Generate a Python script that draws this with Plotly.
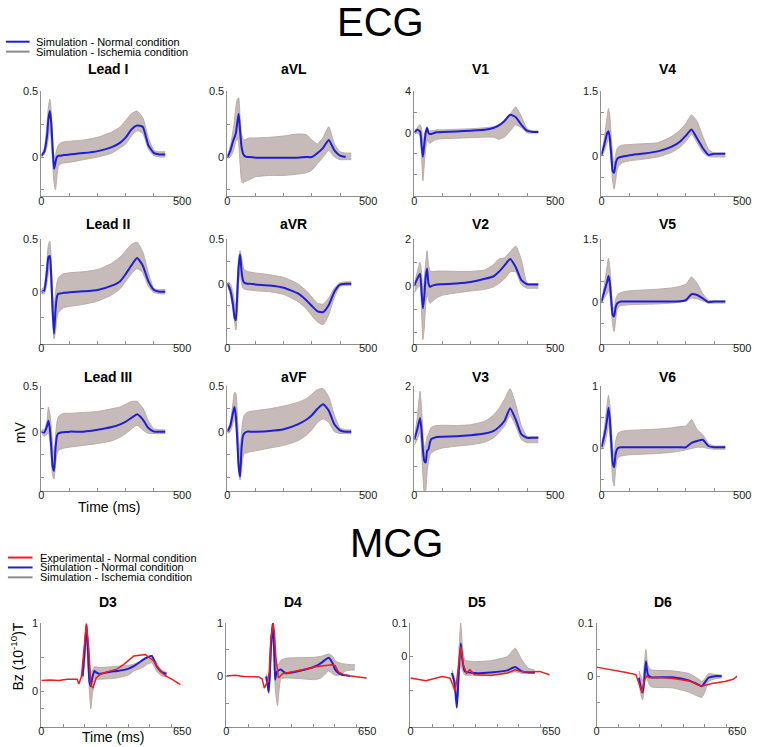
import plotly.graph_objects as go

W, H = 763, 747

# ---------------- ECG data (mV) ----------------
ecg_time_ms = [0, 10, 20, 25, 30, 35, 40, 45, 50, 55, 60, 70, 80, 100, 150, 200, 250, 280, 300, 320, 340, 360, 380, 400, 420, 440]

lead_I_normal = [0.01, 0.04, 0.16, 0.29, 0.35, 0.26, 0.06, -0.09, -0.04, 0.0, 0.01, 0.01, 0.015, 0.02, 0.03, 0.045, 0.075, 0.11, 0.15, 0.21, 0.24, 0.23, 0.09, 0.03, 0.02, 0.02]
lead_I_isch_hi = [0.02, 0.06, 0.25, 0.38, 0.44, 0.35, 0.15, 0.0, 0.02, 0.06, 0.09, 0.11, 0.115, 0.12, 0.13, 0.15, 0.19, 0.23, 0.28, 0.33, 0.35, 0.3, 0.15, 0.05, 0.04, 0.04]
lead_I_isch_lo = [0.0, 0.02, 0.08, 0.15, 0.22, 0.12, -0.05, -0.2, -0.25, -0.15, -0.07, -0.05, -0.045, -0.04, -0.02, 0.0, 0.03, 0.07, 0.1, 0.16, 0.2, 0.18, 0.06, 0.01, 0.0, 0.0]

aVL_normal = [0.0, 0.045, 0.12, 0.15, 0.18, 0.26, 0.33, 0.2, 0.08, 0.03, 0.01, 0.0, 0.0, -0.005, -0.005, -0.005, -0.005, 0.0, 0.0, 0.03, 0.07, 0.13, 0.05, 0.01, 0.0, None]
aVL_isch_hi = [0.01, 0.08, 0.2, 0.28, 0.38, 0.44, 0.45, 0.3, 0.18, 0.14, 0.13, 0.14, 0.145, 0.145, 0.15, 0.16, 0.175, 0.17, 0.13, 0.1, 0.15, 0.23, 0.1, 0.04, 0.03, 0.03]
aVL_isch_lo = [-0.01, 0.0, 0.04, 0.08, 0.12, 0.15, 0.1, -0.05, -0.18, -0.2, -0.19, -0.18, -0.17, -0.15, -0.14, -0.14, -0.13, -0.12, -0.1, -0.05, 0.0, 0.05, 0.0, -0.02, -0.02, -0.02]

V1_normal = [0.06, 0.3, 0.15, -1.1, -2.3, -1.1, 0.0, 0.47, 0.0, -0.1, -0.1, 0.0, 0.06, 0.1, 0.15, 0.22, 0.3, 0.47, 0.72, 1.15, 1.75, 1.5, 0.78, 0.22, 0.1, 0.1]
V1_isch_hi = [0.2, 0.5, 0.8, 0.5, -1.0, -0.2, 0.3, 0.6, 0.3, 0.2, 0.2, 0.25, 0.3, 0.3, 0.35, 0.4, 0.5, 0.6, 0.8, 1.2, 1.8, 2.5, 1.6, 0.4, 0.2, 0.2]
V1_isch_lo = [-0.1, 0.0, -0.3, -2.0, -4.6, -3.0, -1.5, -0.6, -0.9, -1.0, -0.9, -0.7, -0.6, -0.55, -0.5, -0.45, -0.4, -0.4, -0.6, -0.4, 0.2, 0.8, 0.5, 0.0, 0.0, 0.0]

V4_normal = [0.02, 0.25, 0.52, 0.57, 0.4, 0.02, -0.36, -0.4, -0.2, -0.09, -0.05, -0.03, -0.015, 0.01, 0.05, 0.1, 0.21, 0.33, 0.47, 0.61, 0.4, 0.18, 0.02, 0.045, 0.045, 0.045]
V4_isch_hi = [0.03, 0.4, 0.9, 1.1, 0.9, 0.4, 0.0, -0.2, 0.0, 0.15, 0.2, 0.24, 0.25, 0.26, 0.28, 0.3, 0.45, 0.6, 0.75, 0.95, 0.8, 0.45, 0.15, 0.06, 0.06, 0.06]
V4_isch_lo = [-0.02, 0.1, 0.3, 0.4, 0.2, -0.2, -0.6, -0.78, -0.6, -0.35, -0.25, -0.18, -0.15, -0.12, -0.08, -0.03, 0.08, 0.2, 0.33, 0.5, 0.3, 0.08, -0.02, -0.03, -0.03, -0.03]

lead_II_normal = [0.0, 0.01, 0.2, 0.33, 0.34, 0.14, -0.18, -0.4, -0.18, -0.05, -0.02, -0.016, -0.01, -0.006, 0.003, 0.016, 0.057, 0.1, 0.17, 0.25, 0.32, 0.25, 0.1, 0.016, 0.0, 0.0]
lead_II_isch_hi = [0.02, 0.05, 0.3, 0.45, 0.48, 0.3, 0.0, -0.15, -0.02, 0.08, 0.13, 0.16, 0.17, 0.18, 0.19, 0.21, 0.27, 0.33, 0.39, 0.45, 0.47, 0.38, 0.18, 0.03, 0.02, 0.02]
lead_II_isch_lo = [-0.02, -0.02, 0.08, 0.18, 0.22, 0.0, -0.3, -0.45, -0.38, -0.25, -0.2, -0.17, -0.15, -0.14, -0.12, -0.09, -0.03, 0.03, 0.1, 0.17, 0.22, 0.18, 0.05, -0.01, -0.02, -0.02]

aVR_normal = [0.0, -0.07, -0.24, -0.37, -0.41, -0.11, 0.19, 0.33, 0.15, 0.04, 0.01, 0.0, 0.0, -0.01, -0.02, -0.045, -0.11, -0.185, -0.25, -0.31, -0.32, -0.24, -0.09, -0.01, 0.0, 0.0]
aVR_isch_hi = [0.02, 0.0, -0.1, -0.2, -0.25, 0.05, 0.3, 0.37, 0.3, 0.2, 0.16, 0.14, 0.13, 0.12, 0.1, 0.07, 0.0, -0.08, -0.15, -0.22, -0.23, -0.16, -0.05, 0.01, 0.02, 0.02]
aVR_isch_lo = [-0.02, -0.12, -0.3, -0.42, -0.52, -0.35, 0.0, 0.15, 0.0, -0.05, -0.06, -0.07, -0.07, -0.08, -0.09, -0.12, -0.2, -0.28, -0.36, -0.43, -0.46, -0.35, -0.15, -0.03, -0.02, -0.02]

V2_normal = [0.03, 0.3, 0.52, -0.18, -0.96, -0.46, 0.38, 0.73, 0.1, -0.04, -0.01, 0.03, 0.06, 0.07, 0.1, 0.16, 0.3, 0.4, 0.6, 0.87, 1.15, 0.8, 0.24, 0.07, 0.06, 0.06]
V2_isch_hi = [0.1, 0.6, 1.0, 0.6, -0.2, 0.3, 1.0, 1.5, 0.9, 0.65, 0.62, 0.62, 0.63, 0.63, 0.62, 0.62, 0.68, 0.9, 1.15, 1.2, 1.45, 1.7, 1.1, 0.12, 0.1, 0.1]
V2_isch_lo = [-0.3, -0.1, 0.0, -1.0, -2.3, -1.8, -0.8, -0.3, -0.6, -0.75, -0.7, -0.6, -0.5, -0.4, -0.3, -0.22, -0.15, -0.05, 0.1, 0.3, 0.6, 0.6, 0.05, -0.1, -0.1, -0.1]

V5_normal = [0.015, 0.25, 0.48, 0.62, 0.45, 0.05, -0.3, -0.34, -0.14, -0.04, -0.01, 0.015, 0.015, 0.015, 0.015, 0.015, 0.015, 0.02, 0.05, 0.19, 0.17, 0.09, 0.0, 0.015, 0.015, 0.015]
V5_isch_hi = [0.02, 0.4, 0.85, 1.05, 0.8, 0.3, -0.1, -0.15, 0.05, 0.15, 0.2, 0.23, 0.25, 0.27, 0.29, 0.31, 0.34, 0.38, 0.43, 0.6, 0.45, 0.2, 0.05, 0.03, 0.03, 0.03]
V5_isch_lo = [-0.02, 0.1, 0.2, 0.3, 0.15, -0.2, -0.55, -0.7, -0.45, -0.2, -0.12, -0.08, -0.07, -0.06, -0.05, -0.04, -0.02, 0.0, 0.02, 0.1, 0.08, 0.03, -0.02, -0.02, -0.02, -0.02]

lead_III_normal = [0.0, -0.01, 0.06, 0.12, 0.03, -0.16, -0.38, -0.43, -0.19, -0.05, -0.02, -0.01, -0.007, 0.0, 0.0, 0.02, 0.05, 0.08, 0.11, 0.15, 0.19, 0.135, 0.04, 0.0, 0.0, 0.0]
lead_III_isch_hi = [0.02, 0.02, 0.12, 0.27, 0.2, 0.05, -0.15, -0.25, -0.05, 0.1, 0.16, 0.19, 0.2, 0.2, 0.21, 0.22, 0.25, 0.27, 0.3, 0.33, 0.33, 0.26, 0.12, 0.03, 0.02, 0.02]
lead_III_isch_lo = [-0.02, -0.05, -0.03, 0.0, -0.1, -0.3, -0.48, -0.52, -0.35, -0.25, -0.21, -0.19, -0.18, -0.17, -0.15, -0.13, -0.1, -0.06, -0.02, 0.03, 0.07, 0.02, -0.02, -0.02, -0.02, -0.02]

aVF_normal = [0.0, 0.06, 0.21, 0.27, 0.17, -0.08, -0.38, -0.49, -0.19, -0.05, -0.02, 0.0, 0.0, 0.0, 0.007, 0.026, 0.08, 0.13, 0.18, 0.25, 0.3, 0.23, 0.08, 0.015, 0.0, 0.0]
aVF_isch_hi = [0.02, 0.1, 0.32, 0.43, 0.42, 0.2, -0.1, -0.2, 0.0, 0.12, 0.18, 0.21, 0.22, 0.23, 0.25, 0.28, 0.32, 0.36, 0.41, 0.46, 0.47, 0.38, 0.18, 0.04, 0.02, 0.02]
aVF_isch_lo = [-0.02, 0.0, 0.1, 0.15, 0.05, -0.2, -0.45, -0.53, -0.4, -0.28, -0.24, -0.23, -0.22, -0.21, -0.18, -0.15, -0.1, -0.04, 0.02, 0.1, 0.14, 0.1, 0.0, -0.02, -0.02, -0.02]

V3_normal = [0.0, 0.37, 0.8, 0.37, -0.37, -0.8, -0.86, -0.43, -0.37, -0.12, 0.02, 0.06, 0.09, 0.1, 0.12, 0.16, 0.22, 0.31, 0.46, 0.7, 1.17, 0.74, 0.19, 0.06, 0.06, 0.06]
V3_isch_hi = [0.1, 0.8, 1.8, 1.2, 0.3, -0.3, -0.2, 0.1, 0.2, 0.35, 0.45, 0.5, 0.52, 0.53, 0.52, 0.55, 0.68, 0.9, 1.15, 1.5, 1.9, 1.3, 0.5, 0.12, 0.1, 0.1]
V3_isch_lo = [-0.2, 0.0, 0.3, -0.3, -1.3, -1.95, -1.9, -1.2, -0.8, -0.6, -0.5, -0.43, -0.38, -0.32, -0.25, -0.2, -0.1, 0.05, 0.25, 0.5, 0.9, 0.5, 0.0, -0.12, -0.12, -0.12]

V6_normal = [0.02, 0.2, 0.46, 0.65, 0.46, 0.09, -0.23, -0.3, -0.1, -0.015, 0.01, 0.02, 0.02, 0.02, 0.02, 0.02, 0.02, 0.02, 0.02, 0.09, 0.12, 0.14, 0.04, 0.02, 0.02, 0.02]
V6_isch_hi = [0.03, 0.3, 0.7, 0.85, 0.7, 0.35, 0.0, -0.1, 0.1, 0.2, 0.25, 0.27, 0.28, 0.29, 0.3, 0.31, 0.33, 0.35, 0.36, 0.46, 0.3, 0.22, 0.08, 0.04, 0.04, 0.04]
V6_isch_lo = [-0.02, 0.05, 0.25, 0.4, 0.2, -0.15, -0.5, -0.6, -0.35, -0.18, -0.14, -0.12, -0.11, -0.1, -0.09, -0.08, -0.06, -0.04, -0.02, 0.0, 0.02, 0.02, 0.0, -0.01, -0.01, -0.01]

# ---------------- MCG data (Bz, 1e-10 T) ----------------
D3_exp_time = [0, 40, 80, 120, 150, 165, 173, 185, 200, 208, 219, 228, 238, 253, 276, 321, 351, 382, 427, 480, 517, 547, 578, 608, 642]
D3_exp_normal = [0.16, 0.17, 0.16, 0.18, 0.18, 0.18, 0.11, 0.22, 0.72, 0.99, 0.62, 0.1, 0.05, 0.2, 0.26, 0.3, 0.33, 0.4, 0.52, 0.54, 0.45, 0.3, 0.22, 0.17, 0.1]
D3_sim_time = [190, 200, 208, 215, 222, 228, 235, 245, 253, 265, 276, 320, 351, 400, 427, 450, 472, 490, 510, 532, 550, 563, 578]
D3_sim_normal = [0.22, 0.6, 0.97, 0.6, 0.15, 0.08, 0.2, 0.3, 0.28, 0.26, 0.26, 0.29, 0.3, 0.33, 0.37, 0.42, 0.47, 0.5, 0.52, 0.37, 0.3, 0.27, 0.26]
D3_sim_isch_hi = [0.25, 0.72, 0.98, 0.78, 0.4, 0.3, 0.3, 0.36, 0.36, 0.35, 0.35, 0.36, 0.37, 0.38, 0.4, 0.43, 0.46, 0.5, 0.52, 0.42, 0.33, 0.3, 0.28]
D3_sim_isch_lo = [0.18, 0.4, 0.8, 0.35, 0.0, -0.25, -0.05, 0.12, 0.17, 0.18, 0.18, 0.19, 0.2, 0.24, 0.3, 0.33, 0.36, 0.4, 0.42, 0.3, 0.24, 0.22, 0.22]

D4_exp_time = [0, 40, 80, 122, 150, 165, 175, 183, 190, 198, 205, 216, 222, 228, 240, 259, 300, 335, 380, 411, 440, 472, 487, 502, 518, 550, 578, 610, 647]
D4_exp_normal = [0.01, 0.02, 0.0, 0.0, -0.01, -0.05, -0.22, -0.15, -0.1, 0.1, 0.7, 1.0, 0.8, 0.38, -0.03, 0.05, 0.08, 0.11, 0.15, 0.18, 0.2, 0.22, 0.22, 0.2, 0.08, 0.02, 0.0, -0.01, -0.03]
D4_sim_time = [183, 190, 195, 200, 205, 213, 221, 225, 230, 236, 251, 274, 335, 411, 440, 472, 490, 502, 518, 533, 550, 571, 593]
D4_sim_normal = [0.0, -0.15, -0.29, 0.0, 0.51, 0.99, 0.45, -0.06, 0.05, 0.1, 0.13, 0.06, 0.1, 0.19, 0.26, 0.35, 0.25, 0.13, 0.06, 0.03, 0.02, 0.01, None]
D4_sim_isch_hi = [0.05, -0.05, -0.1, 0.2, 0.7, 0.98, 0.7, 0.35, 0.25, 0.2, 0.3, 0.34, 0.35, 0.36, 0.38, 0.42, 0.38, 0.3, 0.26, 0.24, 0.23, 0.22, 0.22]
D4_sim_isch_lo = [-0.05, -0.2, -0.32, -0.1, 0.3, 0.8, 0.2, -0.2, -0.4, -0.55, -0.05, -0.03, -0.04, -0.06, -0.02, 0.1, 0.05, 0.02, 0.02, 0.05, 0.1, 0.12, 0.12]

D5_exp_time = [0, 71, 146, 183, 198, 205, 213, 220, 233, 244, 259, 274, 296, 371, 447, 484, 507, 537, 597, 642]
D5_exp_normal = [-0.064, -0.072, -0.059, -0.064, -0.088, -0.103, -0.074, -0.034, 0.029, -0.025, -0.049, -0.039, -0.054, -0.056, -0.049, -0.039, -0.044, -0.046, -0.044, -0.054]
D5_sim_time = [191, 202, 208, 214, 219, 224, 232, 239, 251, 296, 371, 447, 484, 514, 545, 574]
D5_sim_normal = [-0.049, -0.074, -0.11, -0.152, -0.1, -0.034, 0.039, -0.005, -0.044, -0.049, -0.047, -0.041, -0.031, -0.044, -0.047, -0.047]
D5_sim_isch_hi = [-0.04, -0.06, -0.08, -0.1, -0.04, 0.02, 0.1, 0.04, -0.01, -0.015, -0.012, 0.0, 0.025, -0.01, -0.035, -0.04]
D5_sim_isch_lo = [-0.055, -0.08, -0.1, -0.13, -0.12, -0.06, -0.02, -0.04, -0.055, -0.055, -0.055, -0.05, -0.045, -0.05, -0.05, -0.05]

D6_exp_time = [0, 76, 137, 182, 198, 210, 220, 231, 243, 274, 350, 426, 486, 502, 532, 593, 631, 650]
D6_exp_normal = [0.017, 0.012, 0.007, 0.003, -0.015, -0.031, -0.009, 0.0, -0.003, -0.002, -0.004, -0.009, -0.019, -0.017, -0.014, -0.010, -0.006, 0.0]
D6_sim_time = [196, 205, 213, 220, 228, 237, 251, 350, 426, 470, 486, 500, 517, 547, 578]
D6_sim_normal = [-0.003, -0.022, -0.031, -0.009, 0.028, 0.003, -0.002, -0.002, -0.008, -0.016, -0.019, -0.012, -0.003, 0.0, 0.0]
D6_sim_isch_hi = [0.01, 0.0, -0.01, 0.02, 0.05, 0.02, 0.012, 0.01, 0.005, -0.005, -0.01, -0.005, 0.005, 0.003, 0.002]
D6_sim_isch_lo = [-0.01, -0.035, -0.045, -0.025, 0.0, -0.01, -0.02, -0.022, -0.03, -0.038, -0.04, -0.03, -0.01, -0.005, -0.003]

ecg_titles = ["Lead I", "aVL", "V1", "V4", "Lead II", "aVR", "V2", "V5", "Lead III", "aVF", "V3", "V6"]
mcg_titles = ["D3", "D4", "D5", "D6"]

# ---------------- styling ----------------
BLUE = "#1e1ed6"
RED = "#ee1c1c"
GRAY_LINE = "#b8aaa7"
GRAY_FILL = "rgba(184,170,167,0.8)"
AXIS = "#8f8f8f"
FONT = "Liberation Sans, Arial, sans-serif"
SMOOTH = dict(shape="spline", smoothing=0.5)

def px_x(p):
    return p / W

def px_y(p):
    return 1 - p / H

fig = go.Figure()

ecg_sets = [
    (lead_I_normal, lead_I_isch_hi, lead_I_isch_lo, [-0.3, 0.5], [-0.25, 0, 0.25, 0.5], ["", "0", "", "0.5"]),
    (aVL_normal, aVL_isch_hi, aVL_isch_lo, [-0.3, 0.5], [-0.25, 0, 0.25, 0.5], ["", "0", "", "0.5"]),
    (V1_normal, V1_isch_hi, V1_isch_lo, [-6.1, 4], [-4, -2, 0, 2, 4], ["", "", "0", "", "4"]),
    (V4_normal, V4_isch_hi, V4_isch_lo, [-0.95, 1.5], [-0.5, 0, 0.5, 1, 1.5], ["", "0", "", "", "1.5"]),
    (lead_II_normal, lead_II_isch_hi, lead_II_isch_lo, [-0.5, 0.5], [-0.25, 0, 0.25, 0.5], ["", "0", "", "0.5"]),
    (aVR_normal, aVR_isch_hi, aVR_isch_lo, [-0.68, 0.5], [-0.5, -0.25, 0, 0.25, 0.5], ["", "", "0", "", "0.5"]),
    (V2_normal, V2_isch_hi, V2_isch_lo, [-2.5, 2], [-2, -1, 0, 1, 2], ["", "", "0", "", "2"]),
    (V5_normal, V5_isch_hi, V5_isch_lo, [-1.0, 1.5], [-0.5, 0, 0.5, 1, 1.5], ["", "0", "", "", "1.5"]),
    (lead_III_normal, lead_III_isch_hi, lead_III_isch_lo, [-0.65, 0.5], [-0.5, -0.25, 0, 0.25, 0.5], ["", "", "0", "", "0.5"]),
    (aVF_normal, aVF_isch_hi, aVF_isch_lo, [-0.65, 0.5], [-0.5, -0.25, 0, 0.25, 0.5], ["", "", "0", "", "0.5"]),
    (V3_normal, V3_isch_hi, V3_isch_lo, [-1.93, 2], [-1, 0, 1, 2], ["", "0", "", "2"]),
    (V6_normal, V6_isch_hi, V6_isch_lo, [-0.68, 1], [-0.5, 0, 0.5, 1], ["", "0", "", "1"]),
]

mcg_sets = [
    (D3_exp_time, D3_exp_normal, D3_sim_time, D3_sim_normal, D3_sim_isch_hi, D3_sim_isch_lo, [-0.52, 1], [-0.25, 0, 0.5, 1], ["", "0", "", "1"]),
    (D4_exp_time, D4_exp_normal, D4_sim_time, D4_sim_normal, D4_sim_isch_hi, D4_sim_isch_lo, [-0.95, 1], [-0.5, 0, 0.5, 1], ["", "0", "", "1"]),
    (D5_exp_time, D5_exp_normal, D5_sim_time, D5_sim_normal, D5_sim_isch_hi, D5_sim_isch_lo, [-0.21, 0.1], [-0.1, 0, 0.1], ["", "0", "0.1"]),
    (D6_exp_time, D6_exp_normal, D6_sim_time, D6_sim_normal, D6_sim_isch_hi, D6_sim_isch_lo, [-0.096, 0.1], [-0.05, 0, 0.05, 0.1], ["", "0", "", "0.1"]),
]

ecg_col_left = [39, 228, 418, 608]
ecg_row_top = [86, 235, 383]
ecg_row_bottom = [192, 341, 489]
ecg_title_y = [64, 220, 374]
mcg_col_left = [39, 227, 414, 603]
mcg_top, mcg_bottom, mcg_title_y = 622, 727, 601
plot_w = 143

annotations = []
layout_axes = {}

def axis_style(rng, tv, tt, standoff=0):
    return dict(range=rng, tickvals=tv, ticktext=tt, showline=True, linecolor=AXIS, linewidth=1,
                ticks="inside", ticklen=3, tickcolor=AXIS, showgrid=False, zeroline=False,
                ticklabelstandoff=standoff,
                tickfont=dict(size=11, color="#222", family=FONT), fixedrange=True)

idx = 0
for k, (nrm, hi, lo, yr, ytv, ytt) in enumerate(ecg_sets):
    idx += 1
    r, c = divmod(k, 4)
    xa = "x" if idx == 1 else f"x{idx}"
    ya = "y" if idx == 1 else f"y{idx}"
    fig.add_trace(go.Scatter(x=ecg_time_ms, y=lo, xaxis=xa, yaxis=ya, mode="lines",
                             line=dict(color=GRAY_LINE, width=1, **SMOOTH), showlegend=False, hoverinfo="skip"))
    fig.add_trace(go.Scatter(x=ecg_time_ms, y=hi, xaxis=xa, yaxis=ya, mode="lines", fill="tonexty",
                             fillcolor=GRAY_FILL, line=dict(color=GRAY_LINE, width=1, **SMOOTH),
                             showlegend=False, hoverinfo="skip"))
    fig.add_trace(go.Scatter(x=ecg_time_ms, y=nrm, xaxis=xa, yaxis=ya, mode="lines",
                             line=dict(color=BLUE, width=2, **SMOOTH), showlegend=False))
    x0 = ecg_col_left[c]
    layout_axes["xaxis" if idx == 1 else f"xaxis{idx}"] = dict(
        domain=[px_x(x0), px_x(x0 + plot_w)], anchor=ya,
        **axis_style([0, 500], [0, 100, 200, 300, 400, 500], ["0", "", "", "", "", "500"], -6))
    layout_axes["yaxis" if idx == 1 else f"yaxis{idx}"] = dict(
        domain=[px_y(ecg_row_bottom[r]), px_y(ecg_row_top[r])], anchor=xa,
        **axis_style(yr, ytv, ytt))
    annotations.append(dict(text=f"<b>{ecg_titles[k]}</b>", x=px_x(x0 + plot_w / 2 - 4), y=px_y(ecg_title_y[r]),
                            xref="paper", yref="paper", showarrow=False, xanchor="center", yanchor="middle",
                            font=dict(size=14, color="#000", family=FONT)))

for k, (te, ve, ts, vs, hi, lo, yr, ytv, ytt) in enumerate(mcg_sets):
    idx += 1
    xa, ya = f"x{idx}", f"y{idx}"
    fig.add_trace(go.Scatter(x=ts, y=lo, xaxis=xa, yaxis=ya, mode="lines",
                             line=dict(color=GRAY_LINE, width=1, **SMOOTH), showlegend=False, hoverinfo="skip"))
    fig.add_trace(go.Scatter(x=ts, y=hi, xaxis=xa, yaxis=ya, mode="lines", fill="tonexty",
                             fillcolor=GRAY_FILL, line=dict(color=GRAY_LINE, width=1, **SMOOTH),
                             showlegend=False, hoverinfo="skip"))
    fig.add_trace(go.Scatter(x=ts, y=vs, xaxis=xa, yaxis=ya, mode="lines",
                             line=dict(color=BLUE, width=2, **SMOOTH), showlegend=False))
    fig.add_trace(go.Scatter(x=te, y=ve, xaxis=xa, yaxis=ya, mode="lines",
                             line=dict(color=RED, width=1.5), showlegend=False))
    x0 = mcg_col_left[k]
    layout_axes[f"xaxis{idx}"] = dict(
        domain=[px_x(x0), px_x(x0 + plot_w)], anchor=ya,
        **axis_style([0, 650], [0, 100, 200, 300, 400, 500, 600, 650], ["0", "", "", "", "", "", "", "650"], -6))
    layout_axes[f"yaxis{idx}"] = dict(
        domain=[px_y(mcg_bottom), px_y(mcg_top)], anchor=xa, **axis_style(yr, ytv, ytt))
    annotations.append(dict(text=f"<b>{mcg_titles[k]}</b>", x=px_x(x0 + plot_w / 2 - 4), y=px_y(mcg_title_y),
                            xref="paper", yref="paper", showarrow=False, xanchor="center", yanchor="middle",
                            font=dict(size=14, color="#000", family=FONT)))

def text_ann(text, xp, yp, size, xanchor="center", angle=0):
    return dict(text=text, x=px_x(xp), y=px_y(yp), xref="paper", yref="paper", showarrow=False,
                xanchor=xanchor, yanchor="middle", textangle=angle,
                font=dict(size=size, color="#000", family=FONT))

annotations += [
    text_ann("ECG", 384, 16, 40),
    text_ann("MCG", 400, 541, 40),
    text_ann("Time (ms)", 108, 505, 14),
    text_ann("Time (ms)", 112, 737, 14),
    text_ann("mV", 17, 430, 14, angle=-90),
    text_ann("Bz (10<sup>-10</sup>)T", 14, 656, 14, angle=-90),
    text_ann("Simulation - Normal condition", 32, 36, 11, xanchor="left"),
    text_ann("Simulation - Ischemia condition", 32, 46, 11, xanchor="left"),
    text_ann("Experimental - Normal condition", 36, 556, 11, xanchor="left"),
    text_ann("Simulation - Normal condition", 36, 566, 11, xanchor="left"),
    text_ann("Simulation - Ischemia condition", 36, 576, 11, xanchor="left"),
]

legend_keys = [(3, 27, 36, BLUE, 2), (3, 27, 46, "#8c8c8c", 2),
               (5, 30, 556, RED, 2), (5, 30, 566, BLUE, 2), (5, 30, 576, "#8c8c8c", 2)]
shapes = [dict(type="line", xref="paper", yref="paper", x0=px_x(a), x1=px_x(b), y0=px_y(yy), y1=px_y(yy),
               line=dict(color=col, width=wd)) for a, b, yy, col, wd in legend_keys]

fig.update_layout(width=W, height=H, margin=dict(l=0, r=0, t=0, b=0), paper_bgcolor="white",
                  plot_bgcolor="white", showlegend=False, annotations=annotations, shapes=shapes,
                  font=dict(family=FONT), **layout_axes)

fig.write_html("out.html", config={"displayModeBar": False},
               post_script="document.body.style.margin='0';document.body.style.overflow='hidden';")
